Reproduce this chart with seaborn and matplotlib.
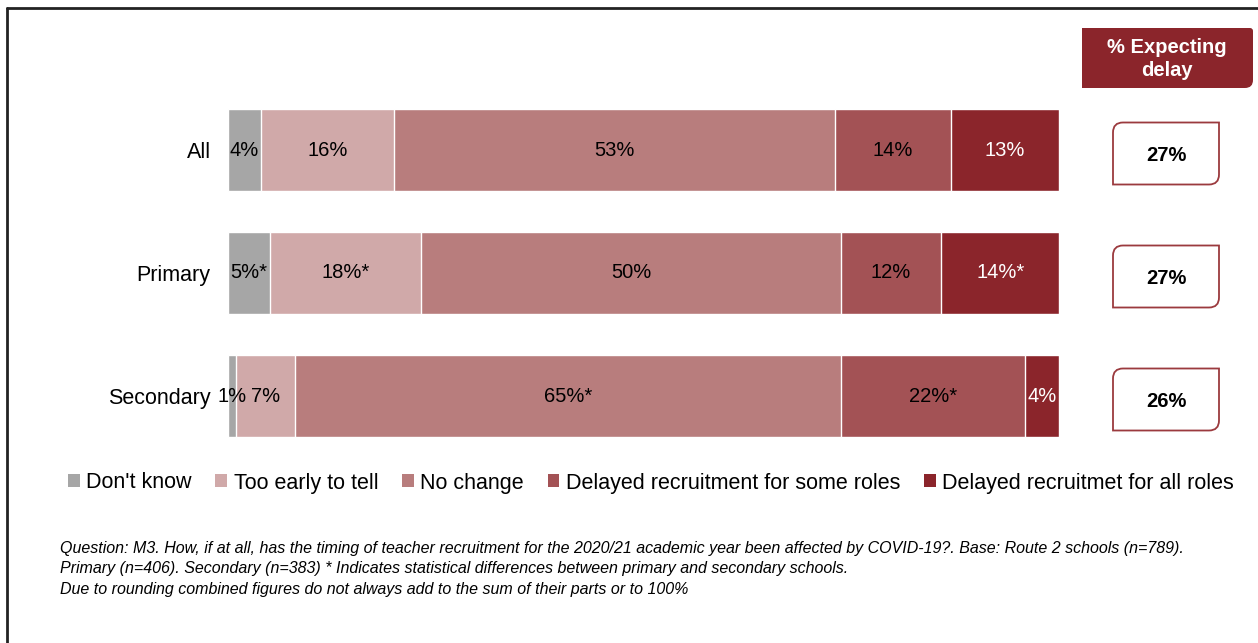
import matplotlib
matplotlib.use("Agg")
import matplotlib.pyplot as plt
import numpy as np
import pandas as pd
import seaborn as sns
from matplotlib.patches import Patch, PathPatch
from matplotlib.path import Path
from matplotlib.lines import Line2D

# ── Data ─────────────────────────────────────────────
groups = ["All", "Primary", "Secondary"]
responses = ["Don't know", "Too early to tell", "No change",
             "Delayed recruitment for some roles", "Delayed recruitmet for all roles"]
dont_know    = [4, 5, 1]
too_early    = [16, 18, 7]
no_change    = [53, 50, 65]
delayed_some = [14, 12, 22]
delayed_all  = [13, 14, 4]
# significance flags (*) per response, per group
star_dont_know    = [False, True, False]
star_too_early    = [False, True, False]
star_no_change    = [False, False, True]
star_delayed_some = [False, False, True]
star_delayed_all  = [False, True, False]
expecting_delay = [27, 27, 26]

colors = ["#A6A6A6", "#D0A9A9", "#B87D7D", "#A35255", "#8B252B"]
text_colors = ["black", "black", "black", "black", "white"]
dark_red = "#8B252B"

values = np.array([dont_know, too_early, no_change, delayed_some, delayed_all], dtype=float)
stars = np.array([star_dont_know, star_too_early, star_no_change,
                  star_delayed_some, star_delayed_all])
shares = values / values.sum(axis=0) * 100
cum = shares.cumsum(axis=0)

rows = []
for r, resp in enumerate(responses):
    for g, grp in enumerate(groups):
        rows.append({"group": grp, "response": resp, "cum": cum[r, g]})
df = pd.DataFrame(rows)

# ── Figure ───────────────────────────────────────────
sns.set_theme(style="white")
plt.rcParams["font.family"] = ["Liberation Sans", "DejaVu Sans"]
plt.rcParams["text.color"] = "black"
plt.rcParams["ytick.labelcolor"] = "black"

W, H = 1258, 643
fig = plt.figure(figsize=(W / 100, H / 100), dpi=100)
fig.patch.set_facecolor("white")

ax_left, ax_right = 228, 1059
ax_top, ax_bottom = 88.5, 457.5
ax = fig.add_axes([ax_left / W, 1 - ax_bottom / H,
                   (ax_right - ax_left) / W, (ax_bottom - ax_top) / H])

sns.barplot(data=df, x="cum", y="group", hue="response",
            hue_order=responses[::-1], palette=dict(zip(responses, colors)),
            order=groups, orient="h", dodge=False, width=0.667, saturation=1,
            edgecolor="white", linewidth=1, legend=False, ax=ax)

for r in range(len(responses)):
    for g in range(len(groups)):
        label = f"{values[r, g]:.0f}%" + ("*" if stars[r, g] else "")
        ax.text(cum[r, g] - shares[r, g] / 2, g, label, ha="center", va="center",
                color=text_colors[r], fontsize=14.5)

ax.set_xlim(0, 100)
ax.set_ylim(2.5, -0.5)
ax.set_xlabel("")
ax.set_ylabel("")
ax.set_xticks([])
ax.tick_params(axis="y", length=0, pad=12.5, labelsize=15.5, labelcolor="black")
for s in ax.spines.values():
    s.set_visible(False)

# ── Legend ───────────────────────────────────────────
handles = [Patch(facecolor=c, edgecolor="none") for c in colors]
fig.legend(handles, responses, loc="center", bbox_to_anchor=(651 / W, 1 - 483 / H),
           ncol=5, frameon=False, fontsize=15.5, handlelength=0.55, handleheight=0.55,
           handletextpad=0.3, columnspacing=1.1, labelcolor="black")

# ── Right-hand panel (pixel coords overlay) ─────────
ov = fig.add_axes([0, 0, 1, 1], facecolor="none")
ov.set_xlim(0, W)
ov.set_ylim(H, 0)
ov.axis("off")


def rounded_box(x0, y0, x1, y1, r_tl=0, r_tr=0, r_br=0, r_bl=0):
    # y grows downward (pixel coords)
    verts, codes = [], []
    verts += [(x0 + r_tl, y0)]; codes += [Path.MOVETO]
    verts += [(x1 - r_tr, y0)]; codes += [Path.LINETO]
    if r_tr:
        verts += [(x1, y0), (x1, y0 + r_tr)]; codes += [Path.CURVE3] * 2
    verts += [(x1, y1 - r_br)]; codes += [Path.LINETO]
    if r_br:
        verts += [(x1, y1), (x1 - r_br, y1)]; codes += [Path.CURVE3] * 2
    verts += [(x0 + r_bl, y1)]; codes += [Path.LINETO]
    if r_bl:
        verts += [(x0, y1), (x0, y1 - r_bl)]; codes += [Path.CURVE3] * 2
    verts += [(x0, y0 + r_tl)]; codes += [Path.LINETO]
    if r_tl:
        verts += [(x0, y0), (x0 + r_tl, y0)]; codes += [Path.CURVE3] * 2
    verts += [(0, 0)]; codes += [Path.CLOSEPOLY]
    return Path(verts, codes)


ov.add_patch(PathPatch(rounded_box(1082, 28, 1253, 88, r_tr=3, r_br=8),
                       facecolor=dark_red, edgecolor="none"))
ov.text(1167, 59, "% Expecting\ndelay", ha="center", va="center", color="white",
        fontsize=14.5, fontweight="bold", linespacing=1.25)

inv = ov.transData.inverted()
for g, val in enumerate(expecting_delay):
    yc = inv.transform(ax.transData.transform((0, g)))[1] + 3.5
    ov.add_patch(PathPatch(rounded_box(1113, yc - 31, 1219, yc + 31, r_tl=10, r_br=10),
                           facecolor="white", edgecolor="#9B3A3E", linewidth=1.3))
    ov.text(1166, yc + 2, f"{val}%", ha="center", va="center", color="black",
            fontsize=14.5, fontweight="bold")

# ── Footnote ─────────────────────────────────────────
note = ("Question: M3. How, if at all, has the timing of teacher recruitment for the 2020/21 "
        "academic year been affected by COVID-19?. Base: Route 2 schools (n=789).\n"
        "Primary (n=406). Secondary (n=383) * Indicates statistical differences between "
        "primary and secondary schools.\n"
        "Due to rounding combined figures do not always add to the sum of their parts or to 100%")
ov.text(60, 541, note, ha="left", va="top", fontsize=11.5, style="italic",
        linespacing=1.45, color="black")

# ── Frame ────────────────────────────────────────────
ov.add_line(Line2D([7, 7], [8, H], color="#222222", linewidth=2))
ov.add_line(Line2D([7, W], [8, 8], color="#222222", linewidth=2))

fig.savefig("out.png", dpi=100, facecolor="white")
